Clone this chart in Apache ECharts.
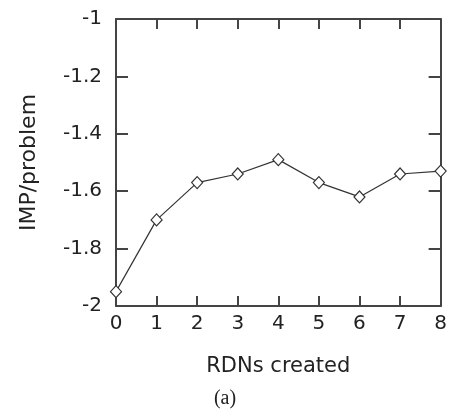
<!doctype html>
<html>
<head>
<meta charset="utf-8">
<title></title>
<script src="https://cdn.jsdelivr.net/npm/echarts@6/dist/echarts.min.js"></script>
<style>
	html, body { margin: 0; padding: 0; background: #fff; }
	#container { width: 450px; height: 411px; }
</style>
</head>
<body>
<div id="container"></div>
<script type="text/javascript">
	// data
	var rdns = [0, 1, 2, 3, 4, 5, 6, 7, 8];
	var impPerProblem = [-1.95, -1.70, -1.57, -1.54, -1.49, -1.57, -1.62, -1.54, -1.53];
	var yTicks = [-2, -1.8, -1.6, -1.4, -1.2, -1];

	var points = [];
	for (var i = 0; i < rdns.length; i++) {
		points.push([rdns[i], impPerProblem[i]]);
	}

	var font = 'DejaVu Sans';
	var axisColor = '#444';

	var option = {
		animation: false,
		backgroundColor: '#fff',
		grid: {
			left: 116,
			right: 7,
			top: 19,
			bottom: 105
		},
		title: {
			text: '(a)',
			left: 'center',
			top: 384,
			textStyle: {
				fontFamily: 'Liberation Serif',
				fontWeight: 'normal',
				fontSize: 20,
				color: '#222'
			}
		},
		xAxis: [{
			type: 'value',
			min: 0,
			max: 8,
			interval: 1,
			name: 'RDNs created',
			nameLocation: 'middle',
			nameGap: 50,
			nameTextStyle: { fontFamily: font, fontSize: 21, color: '#222' },
			axisLine: { onZero: false, lineStyle: { color: axisColor, width: 2 } },
			axisTick: { inside: true, length: 10, lineStyle: { color: axisColor, width: 2 } },
			axisLabel: { margin: 8, fontFamily: font, fontSize: 20, color: '#222' },
			splitLine: { show: false }
		}, {
			type: 'value',
			position: 'top',
			min: 0,
			max: 8,
			interval: 1,
			axisLine: { show: true, onZero: false, lineStyle: { color: axisColor, width: 2 } },
			axisTick: { show: true, inside: true, length: 10, lineStyle: { color: axisColor, width: 2 } },
			axisLabel: { show: false },
			splitLine: { show: false }
		}],
		yAxis: [{
			type: 'value',
			position: 'left',
			min: yTicks[0],
			max: yTicks[yTicks.length - 1],
			interval: 0.2,
			name: 'IMP/problem',
			nameLocation: 'middle',
			nameGap: 76,
			nameTextStyle: { fontFamily: font, fontSize: 22, color: '#222' },
			axisLine: { show: true, onZero: false, lineStyle: { color: axisColor, width: 2 } },
			axisTick: { show: true, inside: true, length: 12, lineStyle: { color: axisColor, width: 2 } },
			axisLabel: {
				margin: 14,
				fontFamily: font,
				fontSize: 20,
				color: '#222',
				formatter: function(v) { return String(Math.round(v * 10) / 10); }
			},
			splitLine: { show: false }
		}, {
			type: 'value',
			position: 'right',
			min: yTicks[0],
			max: yTicks[yTicks.length - 1],
			interval: 0.2,
			axisLine: { show: true, onZero: false, lineStyle: { color: axisColor, width: 2 } },
			axisTick: { show: true, inside: true, length: 12, lineStyle: { color: axisColor, width: 2 } },
			axisLabel: { show: false },
			splitLine: { show: false }
		}],
		series: [{
			type: 'line',
			data: points,
			symbol: 'diamond',
			symbolSize: [11, 12],
			showAllSymbol: true,
			clip: false,
			lineStyle: { color: '#333', width: 1.2 },
			itemStyle: { color: '#fff', borderColor: '#333', borderWidth: 1.2 }
		}]
	};

	var myChart = echarts.init(document.getElementById('container'));
	myChart.setOption(option);
</script>
</body>
</html>
